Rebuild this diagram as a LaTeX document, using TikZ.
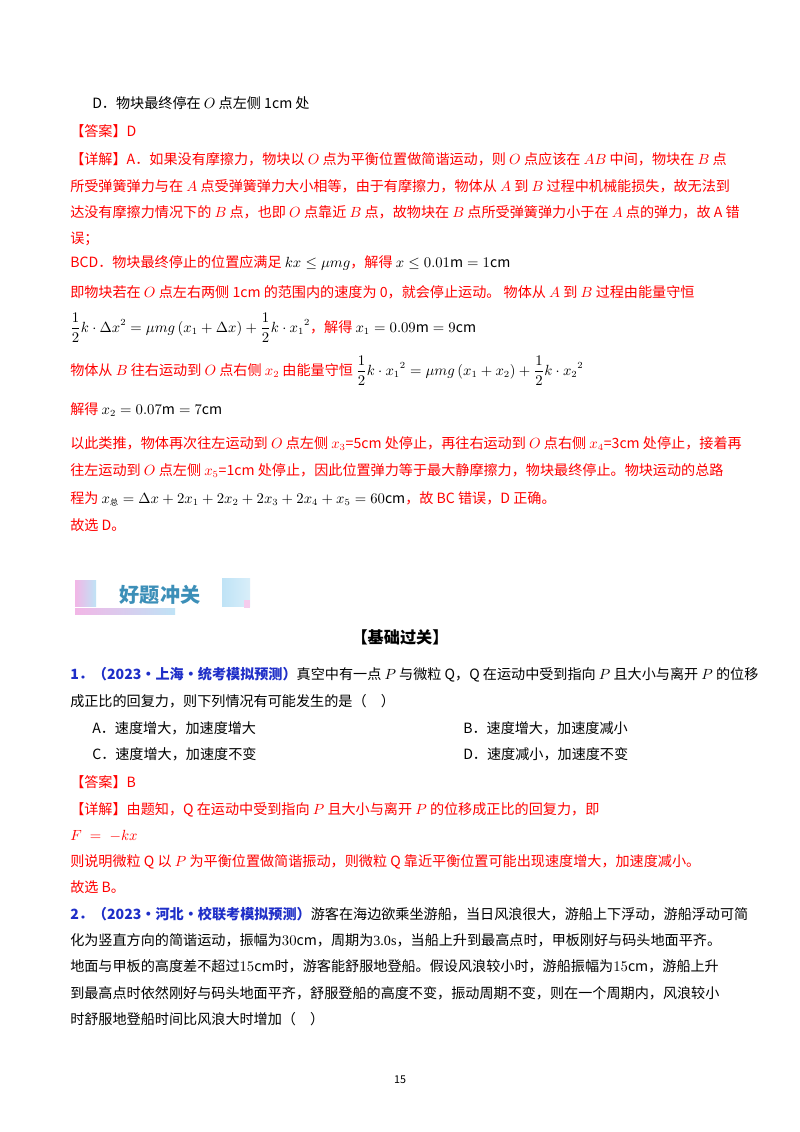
\documentclass[tikz,border=0pt]{standalone}
\usepackage{fontspec}
\setmainfont{Noto Sans CJK SC}
\newfontfamily\serifnum{Liberation Serif}
\definecolor{ansred}{HTML}{FF0000}
\definecolor{qblue}{HTML}{1F2FC8}
\definecolor{bannerblue}{HTML}{3C8FB8}
\definecolor{bpink}{HTML}{F2B6E6}
\definecolor{bblue}{HTML}{BFE3F6}
\begin{document}
\begin{tikzpicture}[x=0.744pt,y=-0.744pt,
  txt/.style={anchor=base west,inner sep=0pt,font=\fontsize{10.5pt}{12pt}\selectfont},
  rtxt/.style={txt,text=ansred}]
\useasboundingbox (0,0) rectangle (800,1132);
\fill[white] (0,0) rectangle (800,1132);
\node[txt] (l1) at (92,108) {D．物块最终停在 $O$ 点左侧 1cm 处};
\node[rtxt] (l2) at (70,136) {【答案】D};
\node[rtxt] (l3) at (70,164) {【详解】A．如果没有摩擦力，物块以 $O$ 点为平衡位置做简谐运动，则 $O$ 点应该在 $AB$ 中间，物块在 $B$ 点};
\node[rtxt] (l4) at (70,191) {所受弹簧弹力与在 $A$ 点受弹簧弹力大小相等，由于有摩擦力，物体从 $A$ 到 $B$ 过程中机械能损失，故无法到};
\node[rtxt] (l5) at (70,217) {达没有摩擦力情况下的 $B$ 点，也即 $O$ 点靠近 $B$ 点，故物块在 $B$ 点所受弹簧弹力小于在 $A$ 点的弹力，故 A 错};
\node[rtxt] (l6) at (70,243) {误；};
\node[rtxt] (l7) at (70,267) {BCD．物块最终停止的位置应满足 \textcolor{black}{$kx\le\mu mg$}，解得 \textcolor{black}{$x\le0.01\mathrm{m}=1\mathrm{cm}$}};
\node[rtxt] (l8) at (70,297) {即物块若在 $O$ 点左右两侧 1cm 的范围内的速度为 0，就会停止运动。 物体从 $A$ 到 $B$ 过程由能量守恒};
\node[rtxt] (l9) at (70,332) {\textcolor{black}{$\displaystyle\frac{1}{2}k\cdot\Delta x^2=\mu mg\left(x_1+\Delta x\right)+\frac{1}{2}k\cdot {x_1}^2$}，解得 \textcolor{black}{$x_1=0.09\mathrm{m}=9\mathrm{cm}$}};
\node[rtxt] (l10) at (70,375) {物体从 $B$ 往右运动到 $O$ 点右侧 $x_2$ 由能量守恒 \textcolor{black}{$\displaystyle\frac{1}{2}k\cdot {x_1}^2=\mu mg\left(x_1+x_2\right)+\frac{1}{2}k\cdot {x_2}^2$}};
\node[rtxt] (l11) at (70,414) {解得 \textcolor{black}{$x_2=0.07\mathrm{m}=7\mathrm{cm}$}};
\node[rtxt] (l12) at (70,448) {以此类推，物体再次往左运动到 $O$ 点左侧 $x_3$=5cm 处停止，再往右运动到 $O$ 点右侧 $x_4$=3cm 处停止，接着再};
\node[rtxt] (l13) at (70,475) {往左运动到 $O$ 点左侧 $x_5$=1cm 处停止，因此位置弹力等于最大静摩擦力，物块最终停止。物块运动的总路};
\node[rtxt] (l14) at (70,503) {程为 \textcolor{black}{$x_{\mbox{\fontsize{6pt}{7pt}\selectfont 总}}=\Delta x+2x_1+2x_2+2x_3+2x_4+x_5=60\mathrm{cm}$}，故 BC 错误，D 正确。};
\node[rtxt] (l15) at (70,530) {故选 D。};
% banner
\shade[left color=bpink,right color=bblue] (75,580) rectangle (96,606);
\shade[left color=bblue,right color=bblue!60] (222,578) rectangle (250,606);
\fill[bpink!70] (244,600) rectangle (250,608);
\shade[left color=bpink,right color=bblue] (75,608) rectangle (175,614);
\node[anchor=center,inner sep=0pt,text=bannerblue,font=\fontsize{15pt}{16pt}\bfseries\selectfont] (ban) at (160,595) {好题冲关};
\node[anchor=base,inner sep=0pt,font=\fontsize{12pt}{14pt}\bfseries\selectfont] (jc) at (400,643) {【基础过关】};
\node[txt] (q1a) at (70,679) {\textcolor{qblue}{\bfseries 1．（2023·上海·统考模拟预测）}真空中有一点 $P$ 与微粒 Q，Q 在运动中受到指向 $P$ 且大小与离开 $P$ 的位移};
\node[txt] (q1b) at (70,706) {成正比的回复力，则下列情况有可能发生的是（\quad）};
\node[txt] (oa) at (92,733) {A．速度增大，加速度增大};
\node[txt] (ob) at (463,733) {B．速度增大，加速度减小};
\node[txt] (oc) at (92,759) {C．速度增大，加速度不变};
\node[txt] (od) at (463,759) {D．速度减小，加速度不变};
\node[rtxt] (a1) at (70,787) {【答案】B};
\node[rtxt] (d1) at (70,814) {【详解】由题知，Q 在运动中受到指向 $P$ 且大小与离开 $P$ 的位移成正比的回复力，即};
\node[rtxt] (d2) at (70,840) {$F\;=\;-kx$};
\node[rtxt] (d3) at (70,866) {则说明微粒 Q 以 $P$ 为平衡位置做简谐振动，则微粒 Q 靠近平衡位置可能出现速度增大，加速度减小。};
\node[rtxt] (d4) at (70,892) {故选 B。};
\node[txt] (q2a) at (70,919) {\textcolor{qblue}{\bfseries 2．（2023·河北·校联考模拟预测）}游客在海边欲乘坐游船，当日风浪很大，游船上下浮动，游船浮动可简};
\node[txt] (q2b) at (70,945) {化为竖直方向的简谐运动，振幅为$30\mathrm{cm}$，周期为{\serifnum 3.0s}，当船上升到最高点时，甲板刚好与码头地面平齐。};
\node[txt] (q2c) at (70,971) {地面与甲板的高度差不超过$15\mathrm{cm}$时，游客能舒服地登船。假设风浪较小时，游船振幅为$15\mathrm{cm}$，游船上升};
\node[txt] (q2d) at (70,998) {到最高点时依然刚好与码头地面平齐，舒服登船的高度不变，振动周期不变，则在一个周期内，风浪较小};
\node[txt] (q2e) at (70,1024) {时舒服地登船时间比风浪大时增加（\quad）};
\node[anchor=base,inner sep=0pt,font=\fontsize{8pt}{9pt}\selectfont] (pg) at (400,1083) {15};
\end{tikzpicture}
\end{document}
